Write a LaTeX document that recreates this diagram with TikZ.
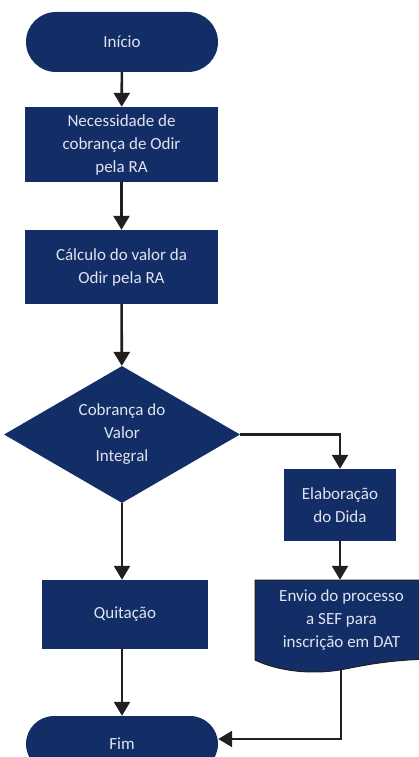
\documentclass[tikz,border=0pt]{standalone}
\usepackage{fontspec}
\setmainfont{Carlito}
\usetikzlibrary{arrows.meta,shapes.geometric}
\definecolor{azul}{RGB}{19,45,102}
\definecolor{texto}{RGB}{224,228,238}
\definecolor{linha}{RGB}{35,31,32}
\begin{document}
\begin{tikzpicture}[x=1pt,y=-1pt,
    every node/.style={font=\fontsize{17}{23}\selectfont,text=texto,align=center,inner sep=0pt},
    terminal/.style={fill=azul,rounded corners=28pt,minimum width=192pt,minimum height=56pt},
    caixa/.style={fill=azul},
    decisao/.style={diamond,fill=azul,shape aspect=1.73,minimum width=236pt,minimum height=137pt},
    seta/.style={draw=linha,line width=2.6pt,-{Triangle[width=16pt,length=14pt]}}]
  \useasboundingbox (0,0) rectangle (418,757);

  % documento (forma de onda)
  \draw[fill=azul,draw=linha,line width=1pt]
        (255,580) -- (430,580) -- (430,659)
        .. controls (395,660) and (375,663) .. (345,669)
        .. controls (315,675) and (280,672) .. (255,660) -- cycle;

  \node[terminal,minimum height=60pt,rounded corners=30pt] (inicio) at (122,42) {Início};
  \node[caixa,minimum width=193pt,minimum height=75pt] (necessidade) at (121.5,144.5)
       {Necessidade de\\cobrança de Odir\\pela RA};
  \node[caixa,minimum width=193pt,minimum height=74pt] (calculo) at (121.5,267)
       {Cálculo do valor da\\Odir pela RA};
  \node[decisao] (cobranca) at (122,434.5) {Cobrança do\\Valor\\Integral};
  \node[caixa,minimum width=166pt,minimum height=69pt] (quitacao) at (125,614.5) {Quitação};
  \node[caixa,minimum width=112pt,minimum height=72pt] (elab) at (340,505) {Elaboração\\do Dida};
  \node[minimum width=173pt,minimum height=80pt] (envio) at (341.5,620)
       {Envio do processo\\a SEF para\\inscrição em DAT};
  \coordinate (envioBase) at (341,669);
  \node[terminal] (fim) at (122,744) {Fim};

  \draw[seta] (inicio) -- (necessidade);
  \draw[seta] (necessidade) -- (calculo);
  \draw[seta] (calculo) -- (cobranca);
  \draw[seta] (cobranca.south) -- (cobranca.south |- quitacao.north);
  \draw[seta] (quitacao.south -| fim.north) -- (fim.north);
  \draw[seta] (cobranca.east) -| (elab.north);
  \draw[seta] (elab) -- (elab |- envio.north);
  \draw[seta] (envioBase) |- ([yshift=5pt]fim.east);
\end{tikzpicture}
\end{document}
